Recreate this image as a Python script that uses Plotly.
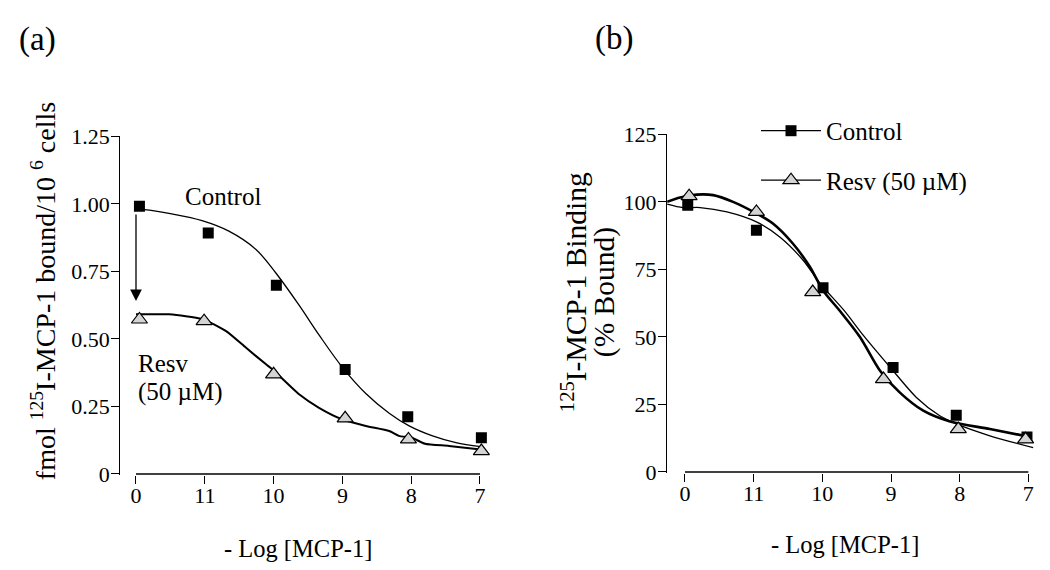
import plotly.graph_objects as go

W, H = 1050, 570

# ---------------- data ----------------
tick_pos = [0, 1, 2, 3, 4, 5]
tick_text = ["0", "11", "10", "9", "8", "7"]

a_yticks = [0, 0.25, 0.5, 0.75, 1.0, 1.25]
a_yticktext = ["0", "0.25", "0.50", "0.75", "1.00", "1.25"]
b_yticks = [0, 25, 50, 75, 100, 125]
b_yticktext = ["0", "25", "50", "75", "100", "125"]

# Panel (a) measured points
a_ctrl_x = [0.05, 1.05, 2.04, 3.04, 3.95, 5.02]
a_ctrl_y = [0.991, 0.892, 0.699, 0.387, 0.212, 0.134]
a_resv_x = [0.05, 0.99, 2.0, 3.04, 3.96, 5.02]
a_resv_y = [0.572, 0.566, 0.369, 0.206, 0.128, 0.085]

# Panel (a) fitted curves
a_ctrl_fit_x = [0.0, 0.12, 0.52, 0.96, 1.35, 1.74, 2.03, 2.37, 2.66, 3.0, 3.34, 3.68, 3.97, 4.31, 4.65, 5.01]
a_ctrl_fit_y = [0.98, 0.979, 0.963, 0.938, 0.899, 0.832, 0.745, 0.625, 0.515, 0.395, 0.298, 0.225, 0.178, 0.141, 0.116, 0.101]
a_resv_fit_x = [0.0, 0.48, 0.96, 1.31, 1.6, 1.89, 1.98, 2.37, 2.66, 3.0, 3.34, 3.68, 3.82, 4.01, 4.2, 4.55, 5.01]
a_resv_fit_y = [0.591, 0.591, 0.574, 0.529, 0.467, 0.406, 0.388, 0.295, 0.245, 0.202, 0.178, 0.159, 0.141, 0.134, 0.112, 0.104, 0.091]

# Panel (b) measured points
b_ctrl_x = [0.04, 1.04, 2.01, 3.03, 3.95, 4.98]
b_ctrl_y = [98.8, 89.5, 68.2, 38.7, 21.0, 13.0]
b_resv_x = [0.06, 1.04, 1.86, 2.89, 3.98, 4.96]
b_resv_y = [102.1, 96.3, 66.6, 34.4, 15.9, 12.1]

# Panel (b) fitted curves
b_ctrl_fit_x = [-0.26, -0.03, 0.22, 0.61, 1.04, 1.38, 1.72, 1.97, 2.31, 2.60, 2.99, 3.37, 3.71, 3.96, 4.44, 5.07]
b_ctrl_fit_y = [99.2, 97.9, 97.9, 96.3, 92.6, 87.0, 78.4, 69.7, 60.0, 50.5, 38.7, 27.6, 20.8, 17.7, 13.4, 9.0]
b_resv_fit_x = [-0.26, -0.07, 0.17, 0.41, 0.70, 1.04, 1.28, 1.57, 1.82, 2.01, 2.26, 2.55, 2.84, 3.13, 3.47, 3.86, 4.44, 5.02]
b_resv_fit_y = [100.0, 101.6, 102.7, 102.5, 100.0, 95.7, 92.0, 84.6, 75.9, 67.2, 59.5, 49.9, 37.5, 29.4, 22.7, 18.7, 15.9, 13.0]

# ---------------- styling ----------------
FONT = "Liberation Serif, Times New Roman, serif"
BLACK = "black"
GRAY = "#d4d4d4"

# the captured picture shows layout y compressed: shown = 10.5 + 0.9607 * layout
VS, VB = 0.9607, 10.5


def Y(t):
    """layout pixel y that appears at picture pixel t"""
    return (t - VB) / VS


def px(x):
    return x / W


def py(y):
    return 1 - y / H


# axis geometry (picture pixel anchors)
a_xr = [-0.23, 5.2]
a_x0, a_xu = 136.0, 68.8
a_yr = [-0.005, 1.25]
a_y0, a_yu = 473.0, 270.4
b_xr = [-0.26, 5.2]
b_x0, b_xu = 685.0, 68.67
b_yr = [-0.5, 125]
b_y0, b_yu = 471.0, 2.704

a_xdom = [px(a_x0 + a_xr[0] * a_xu), px(a_x0 + a_xr[1] * a_xu)]
a_ydom = [py(Y(a_y0 - a_yr[0] * a_yu)), py(Y(a_y0 - a_yr[1] * a_yu))]
b_xdom = [px(b_x0 + b_xr[0] * b_xu), px(b_x0 + b_xr[1] * b_xu)]
b_ydom = [py(Y(b_y0 - b_yr[0] * b_yu)), py(Y(b_y0 - b_yr[1] * b_yu))]

fig = go.Figure()

sq = dict(symbol="square", size=11, color=BLACK, line=dict(width=0))
tri = dict(symbol="triangle-up", size=14, color=GRAY, line=dict(width=1.2, color=BLACK))

# Panel a
fig.add_trace(go.Scatter(x=a_ctrl_fit_x, y=a_ctrl_fit_y, mode="lines", xaxis="x", yaxis="y",
                         line=dict(color=BLACK, width=1.3, shape="spline", smoothing=1.0), showlegend=False))
fig.add_trace(go.Scatter(x=a_resv_fit_x, y=a_resv_fit_y, mode="lines", xaxis="x", yaxis="y",
                         line=dict(color=BLACK, width=2.0, shape="spline", smoothing=0.6), showlegend=False))
fig.add_trace(go.Scatter(x=a_ctrl_x, y=a_ctrl_y, mode="markers", xaxis="x", yaxis="y",
                         marker=sq, showlegend=False))
fig.add_trace(go.Scatter(x=a_resv_x, y=a_resv_y, mode="markers", xaxis="x", yaxis="y",
                         marker=tri, showlegend=False))

# Panel b
fig.add_trace(go.Scatter(x=b_ctrl_fit_x, y=b_ctrl_fit_y, mode="lines", xaxis="x2", yaxis="y2",
                         line=dict(color=BLACK, width=1.3, shape="spline", smoothing=0.8), showlegend=False))
fig.add_trace(go.Scatter(x=b_resv_fit_x, y=b_resv_fit_y, mode="lines", xaxis="x2", yaxis="y2",
                         line=dict(color=BLACK, width=2.6, shape="spline", smoothing=0.8), showlegend=False))
fig.add_trace(go.Scatter(x=b_ctrl_x, y=b_ctrl_y, mode="markers", xaxis="x2", yaxis="y2",
                         marker=sq, showlegend=False))
fig.add_trace(go.Scatter(x=b_resv_x, y=b_resv_y, mode="markers", xaxis="x2", yaxis="y2",
                         marker=tri, showlegend=False))

# legend entries
fig.add_trace(go.Scatter(x=[None], y=[None], mode="lines+markers", name="Control", xaxis="x2", yaxis="y2",
                         legendgroup="c", line=dict(color=BLACK, width=1.3), marker=sq))
fig.add_trace(go.Scatter(x=[None], y=[None], mode="lines+markers", name="Resv (50 µM)", xaxis="x2", yaxis="y2",
                         legendgroup="r", line=dict(color=BLACK, width=1.3), marker=tri))

axis_common = dict(showgrid=False, zeroline=False, ticks="outside", ticklen=8, tickwidth=1.3,
                   tickcolor=BLACK, tickfont=dict(family=FONT, size=22, color=BLACK))

fig.update_layout(
    width=W, height=H, autosize=False,
    margin=dict(l=0, r=0, t=0, b=0),
    paper_bgcolor="white", plot_bgcolor="white",
    font=dict(family=FONT, color=BLACK, size=22),
    xaxis=dict(domain=a_xdom, range=a_xr, anchor="y", showline=False, ticklabelstandoff=-8,
               tickmode="array", tickvals=tick_pos, ticktext=tick_text, **axis_common),
    yaxis=dict(domain=a_ydom, range=a_yr, anchor="x", showline=True, linecolor=BLACK, linewidth=1.3,
               ticklabelstandoff=-3,
               tickmode="array", tickvals=a_yticks, ticktext=a_yticktext, **axis_common),
    xaxis2=dict(domain=b_xdom, range=b_xr, anchor="y2", showline=False, ticklabelstandoff=-8,
                tickmode="array", tickvals=tick_pos, ticktext=tick_text, **axis_common),
    yaxis2=dict(domain=b_ydom, range=b_yr, anchor="x2", showline=True, linecolor=BLACK, linewidth=1.3,
                ticklabelstandoff=-3,
                tickmode="array", tickvals=b_yticks, ticktext=b_yticktext, **axis_common),
    legend=dict(x=px(756), y=py(100), xanchor="left", yanchor="top",
                font=dict(family=FONT, size=25, color=BLACK), bgcolor="rgba(0,0,0,0)",
                itemwidth=60, tracegroupgap=14, traceorder="grouped"),
    shapes=[
        dict(type="line", xref="x", yref="y", x0=tick_pos[0], x1=tick_pos[-1], y0=a_yticks[0], y1=a_yticks[0],
             line=dict(color=BLACK, width=1.3)),
        dict(type="line", xref="x2", yref="y2", x0=tick_pos[0], x1=tick_pos[-1], y0=b_yticks[0], y1=b_yticks[0],
             line=dict(color=BLACK, width=1.3)),
    ],
)

ann = []
def txt(text, x, y, size, angle=0, xanchor="center"):
    ann.append(dict(text=text, x=px(x), y=py(Y(y)), xref="paper", yref="paper", showarrow=False,
                    xanchor=xanchor, yanchor="middle", textangle=angle,
                    font=dict(family=FONT, size=size, color=BLACK)))

txt("(a)", 37, 38, 33)
txt("(b)", 614, 37, 33)
txt("fmol <sup>125</sup>I-MCP-1 bound/10 <sup>6</sup> cells", 43, 290, 28, angle=-90)
txt("<sup>125</sup>I-MCP-1 Binding", 574, 291, 29.5, angle=-90)
txt("(% Bound)", 604, 291, 29.5, angle=-90)
txt("- Log [MCP-1]", 298, 548, 24.5)
txt("- Log [MCP-1]", 845, 544, 24.5)
txt("Control", 223, 195, 25)
txt("Resv", 136, 362, 25, xanchor="left")
txt("(50 µM)", 136, 391, 25, xanchor="left")

# arrow from control to resveratrol at the first concentration
ann.append(dict(x=tick_pos[0], y=0.64, ax=tick_pos[0], ay=0.966, xref="x", yref="y", axref="x", ayref="y",
                showarrow=True, arrowhead=2, arrowsize=1.8, arrowwidth=1.3, arrowcolor=BLACK, text=""))

fig.update_layout(annotations=ann)

fig.write_html("out.html", config={"displayModeBar": False},
               post_script="document.body.style.margin='0';document.body.style.overflow='hidden';")
